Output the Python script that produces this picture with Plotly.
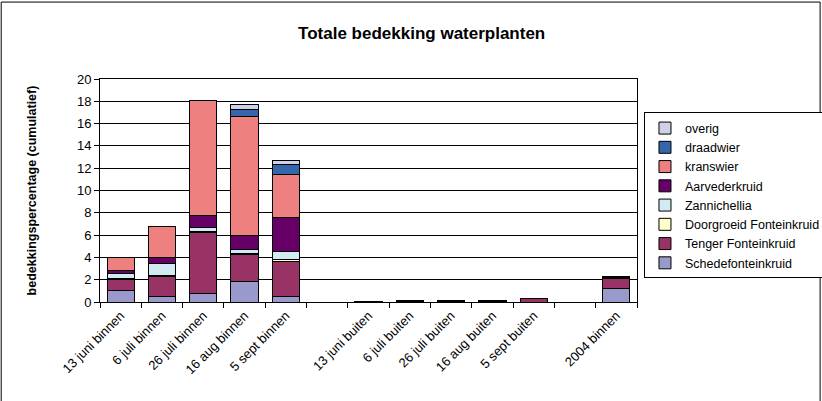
import plotly.graph_objects as go

# Sampling moments (blank entries are spacer columns between the groups)
categories = [
    "13 juni binnen", "6 juli binnen", "26 juli binnen", "16 aug binnen", "5 sept binnen",
    " ",
    "13 juni buiten", "6 juli buiten", "26 juli buiten", "16 aug buiten", "5 sept buiten",
    "  ",
    "2004 binnen",
]

# Coverage per species (%), stacked from bottom to top
schedefonteinkruid = [1.05, 0.5, 0.75, 1.85, 0.5, 0, 0, 0, 0, 0, 0, 0, 1.2]
tenger_fonteinkruid = [1.0, 1.8, 5.5, 2.4, 3.1, 0, 0.08, 0.05, 0.05, 0.03, 0.3, 0, 0.95]
doorgroeid_fonteinkruid = [0.05, 0.1, 0.05, 0.1, 0.2, 0, 0, 0.05, 0, 0, 0, 0, 0]
zannichellia = [0.45, 1.05, 0.4, 0.35, 0.75, 0, 0, 0.05, 0, 0, 0, 0, 0]
aarvederkruid = [0.3, 0.55, 1.05, 1.3, 3.0, 0, 0, 0, 0.1, 0, 0, 0, 0.05]
kranswier = [1.1, 2.75, 10.3, 10.6, 3.9, 0, 0, 0, 0, 0, 0, 0, 0]
draadwier = [0, 0.05, 0, 0.7, 0.9, 0, 0, 0, 0, 0.1, 0, 0, 0.08]
overig = [0, 0, 0, 0.45, 0.3, 0, 0, 0, 0, 0, 0, 0, 0]

series = [
    ("Schedefonteinkruid", schedefonteinkruid, "#9999CC"),
    ("Tenger Fonteinkruid", tenger_fonteinkruid, "#993366"),
    ("Doorgroeid Fonteinkruid", doorgroeid_fonteinkruid, "#FFFFCC"),
    ("Zannichellia", zannichellia, "#D2EAF2"),
    ("Aarvederkruid", aarvederkruid, "#660066"),
    ("kranswier", kranswier, "#EE8080"),
    ("draadwier", draadwier, "#3366AA"),
    ("overig", overig, "#D0D0E8"),
]

FONT = "Arial, Liberation Sans, sans-serif"

fig = go.Figure()
for name, values, color in series:
    fig.add_trace(go.Bar(
        x=categories, y=values, name=name,
        marker=dict(color=color, line=dict(color="#000000", width=1)),
    ))

fig.update_layout(
    barmode="stack",
    bargap=0.34,
    width=822, height=401,
    margin=dict(l=100, r=185, t=79, b=99, autoexpand=False),
    paper_bgcolor="white",
    plot_bgcolor="white",
    font=dict(family=FONT, size=13, color="#000000"),
    title=dict(
        text="<b>Totale bedekking waterplanten</b>",
        x=0.513, xanchor="center", y=0.918, yanchor="middle",
        font=dict(family=FONT, size=17, color="#000000"),
    ),
    legend=dict(
        traceorder="reversed",
        x=1.013, xanchor="left", y=0.85, yanchor="top",
        bordercolor="#000000", borderwidth=1,
        font=dict(family=FONT, size=12.5),
        tracegroupgap=0,
        itemwidth=30,
    ),
    showlegend=True,
)

fig.update_xaxes(
    type="category",
    tickangle=-45,
    ticks="outside", ticklen=5, tickcolor="#000000",
    tickson="boundaries",
    showline=True, linecolor="#000000", linewidth=1, mirror=True,
    showgrid=False,
    tickfont=dict(family=FONT, size=13),
)
fig.update_yaxes(
    range=[0, 20], dtick=2,
    ticks="outside", ticklen=5, tickcolor="#000000",
    showline=True, linecolor="#000000", linewidth=1, mirror=True,
    showgrid=True, gridcolor="#000000", gridwidth=1,
    zeroline=False,
    tickfont=dict(family=FONT, size=13),
    title=dict(text="<b>bedekkingspercentage (cumulatief)</b>",
               font=dict(family=FONT, size=12.5), standoff=37),
)

# Outer frame around the whole chart
fig.add_shape(
    type="rect", xref="paper", yref="paper",
    x0=-0.184, x1=1.341, y0=-0.46, y1=1.345,
    line=dict(color="#000000", width=1), fillcolor="rgba(0,0,0,0)",
    layer="below",
)

fig.write_html("out.html")
